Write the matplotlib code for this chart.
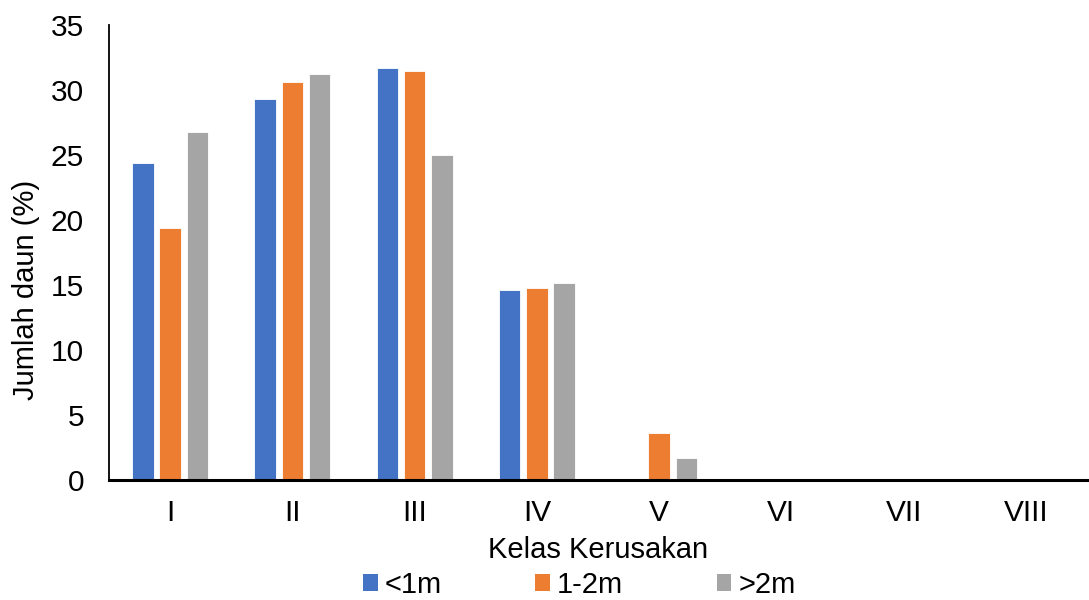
import matplotlib
matplotlib.use("Agg")
import matplotlib.pyplot as plt
import numpy as np
from matplotlib.patches import Patch

categories = ["I", "II", "III", "IV", "V", "VI", "VII", "VIII"]
series_names = ["<1m", "1-2m", ">2m"]
lt1m = [24.4, 29.3, 31.7, 14.6, 0, 0, 0, 0]
m1_2 = [19.4, 30.6, 31.5, 14.8, 3.65, 0, 0, 0]
gt2m = [26.8, 31.25, 25.0, 15.15, 1.7, 0, 0, 0]
colors = ["#4472C4", "#ED7D31", "#A5A5A5"]
yticks = [0, 5, 10, 15, 20, 25, 30, 35]

plt.rcParams['font.family'] = ['Liberation Sans', 'DejaVu Sans']

fig = plt.figure(figsize=(10.89, 6.0), dpi=100)
ax = fig.add_axes([0.1001, 0.2, 0.898, 0.758])

x = np.arange(len(categories))
w = 0.176
step = 0.223
for i, (vals, c, n) in enumerate(zip([lt1m, m1_2, gt2m], colors, series_names)):
    ax.bar(x + (i - 1) * step, vals, width=w, color=c, label=n,
           edgecolor="white", linewidth=0.6, zorder=2)

ax.set_xlim(-0.5, len(categories) - 0.5)
ax.set_ylim(0, 35)
ax.set_yticks(yticks)
ax.set_xticks(x)
ax.set_xticklabels(categories)
ax.tick_params(axis='both', length=0, labelsize=21.5)
ax.tick_params(axis='x', pad=14)
ax.tick_params(axis='y', pad=18)
for s in ["top", "right"]:
    ax.spines[s].set_visible(False)
ax.spines["left"].set_linewidth(1.3)
ax.spines["bottom"].set_linewidth(2.2)
ax.spines["bottom"].set_zorder(3)

ax.set_xlabel("Kelas Kerusakan", fontsize=21, labelpad=6)
ax.set_ylabel("Jumlah daun (%)", fontsize=21)
ax.yaxis.set_label_coords(-0.0706, 0.4176)

handles = [Patch(facecolor=c, label=n) for c, n in zip(colors, series_names)]
fig.legend(handles=handles, loc="center", bbox_to_anchor=(0.532, 0.025),
           ncol=3, frameon=False, fontsize=21, handlelength=0.5, handleheight=0.5,
           handletextpad=0.25, columnspacing=3.2, borderpad=0)

fig.savefig("out.png", dpi=100)
